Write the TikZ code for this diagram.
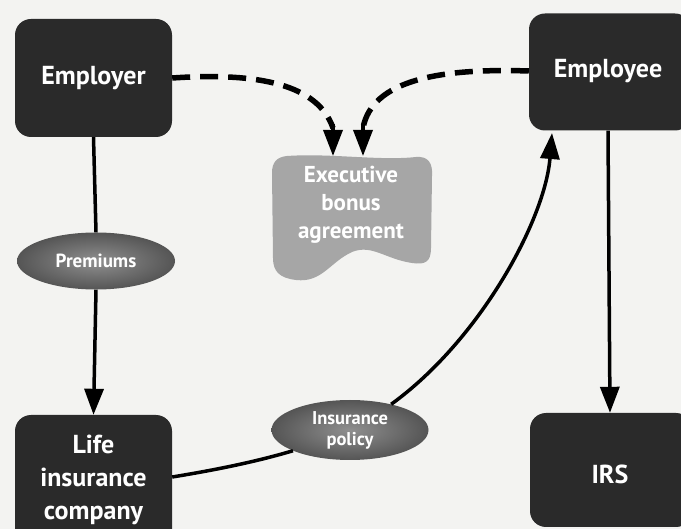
\documentclass[tikz,border=0pt]{standalone}
\usepackage{fontspec}
\setmainfont{PT Sans}
\usetikzlibrary{arrows.meta,shapes.geometric}
\definecolor{bgc}{HTML}{F3F3F1}
\definecolor{boxc}{HTML}{2A2A2A}
\definecolor{ellc}{HTML}{6A6A6A}
\definecolor{bonusc}{HTML}{A6A6A6}
\tikzset{
  bigbox/.style={rounded corners=16pt, fill=boxc, text=white, align=center,
    font=\fontsize{26}{33}\selectfont\bfseries, inner sep=0pt},
  boxtext/.style={text=white, font=\fontsize{26}{33}\selectfont\bfseries},
  ovalnode/.style={ellipse, inner sep=0pt, text=white, align=center,
    inner color=ellc!75!white, outer color=ellc!80!black},
  conn/.style={line width=3.5pt, draw=black},
  tip/.style={-{Triangle[length=26pt,width=19pt]}},
  dashconn/.style={line width=5.5pt, dash pattern=on 18pt off 10pt},
}
\begin{document}
\begin{tikzpicture}[x=1pt,y=-1pt]
\useasboundingbox (0,0) rectangle (681,529);
\clip (0,0) rectangle (681,529);
\fill[bgc] (0,0) rectangle (681,529);

% boxes
\node[bigbox, minimum width=157pt, minimum height=118pt] (employer) at (93.5,78) {Employer};
\node[bigbox, minimum width=162pt, minimum height=117pt] (employee) at (610,72) {};
\node[boxtext] (employeetext) at (608,71) {Employee};
\node[bigbox, minimum width=157pt, minimum height=130pt] (life) at (93.5,480) {Life\\insurance\\company};
\node[bigbox, minimum width=162pt, minimum height=114pt] (irs) at (611,470) {};
\node[boxtext] (irstext) at (610,474) {IRS};

% ellipses
\node[ovalnode, minimum width=158pt, minimum height=57pt,
  font=\fontsize{19}{20}\selectfont\bfseries] (premiums) at (96,261) {Premiums};
\node[ovalnode, minimum width=157pt, minimum height=60pt,
  font=\fontsize{18.5}{21}\selectfont\bfseries] (policy) at (350,430) {Insurance\\policy};

% executive bonus agreement shape
\fill[bonusc] (287,156) .. controls (330,153) and (380,161) .. (416,157)
  .. controls (428,156) and (433,163) .. (432,176) -- (431,248)
  .. controls (431,262) and (425,265) .. (412,263)
  .. controls (385,259) and (372,244) .. (352,252)
  .. controls (330,262) and (322,283) .. (296,280)
  .. controls (279,278) and (273,271) .. (273,258) -- (272,173)
  .. controls (272,162) and (277,157) .. (287,156) -- cycle;
\node[text=white, align=center, inner sep=0pt, minimum width=157pt, minimum height=100pt,
  font=\fontsize{23}{28}\selectfont\bfseries] (bonus) at (351,205) {Executive\\bonus\\agreement};

% connectors
\coordinate (bonusL) at (333,156);
\coordinate (bonusR) at (363,156);
\draw[conn] (employer.south) -- (premiums.north);
\draw[conn, tip] (premiums.south) -- (life.north);
\draw[conn, tip] (employee.south -| employeetext.south) -- (irs.north -| irstext.north);
\draw[conn] (life.east |- 0,477) .. controls (215,470) and (255,462) .. (policy.200);
\draw[conn, tip] (policy.32) .. controls (480,340) and (545,220) .. (552,133);
\draw[dashconn] (employer.east) .. controls (260,72) and (318,85) .. (333,128);
\draw[dashconn] (employee.west |- 0,71) .. controls (440,68) and (372,80) .. (363,128);
\draw[line width=3.5pt, tip] (333,124) -- (bonusL);
\draw[line width=3.5pt, tip] (363,124) -- (bonusR);
\end{tikzpicture}
\end{document}
